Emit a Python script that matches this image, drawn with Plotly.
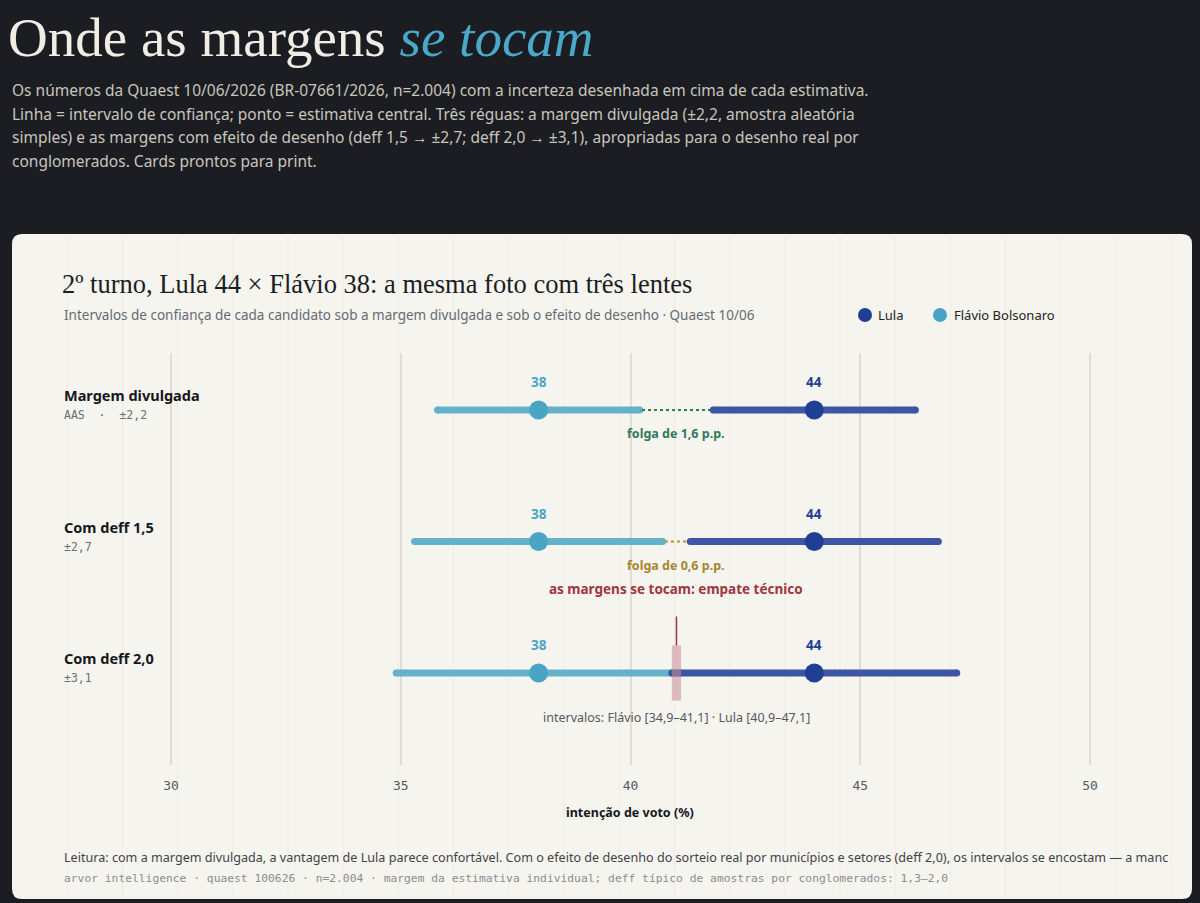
import plotly.graph_objects as go

# ---------------- data ----------------
row_labels = ["Margem divulgada", "Com deff 1,5", "Com deff 2,0"]
row_sublabels = ["AAS  ·  ±2,2", "±2,7", "±3,1"]
margins = [2.2, 2.7, 3.1]
candidates = ["Lula", "Flávio Bolsonaro"]
estimates = {"Lula": 44, "Flávio Bolsonaro": 38}
tick_vals = [30, 35, 40, 45, 50]
tick_text = ["30", "35", "40", "45", "50"]
gap_labels = ["folga de 1,6 p.p.", "folga de 0,6 p.p.", None]
overlap_label = "as margens se tocam: empate técnico"
interval_note = "intervalos: Flávio [34,9–41,1] · Lula [40,9–47,1]"

# ---------------- styling ----------------
OFF = 0
W, H = 1200, 903
BG = "#1b1d22"
CARD = "#f5f4ef"
DOT = {"Lula": "#1f3f94", "Flávio Bolsonaro": "#4aa5c4"}
LINE = {"Lula": "#3c56a4", "Flávio Bolsonaro": "#66b1ca"}
GAP_COL = ["#2f7a5a", "#c28f35", None]
GAP_TXT = ["#2f7a5a", "#a9842f", None]
RED = "#a0343f"
SANS = "Noto Sans"
SERIF = "Liberation Serif"
MONO = "DejaVu Sans Mono"


def px(x):
    return (x - OFF) / W


def py(y):
    return 1 - (y - OFF) / H


# axis geometry (pixel mapping, in screenshot pixels)
PX30, PX50 = 171, 1090
ppu = (PX50 - PX30) / 20
DOM_L, DOM_R = 62, 1150
xr = [30 - (PX30 - DOM_L) / ppu, 50 + (DOM_R - PX50) / ppu]
ROW0, ROWSTEP = 410, 131.5
DOM_T, DOM_B = 353, 765
yr = [(DOM_B - ROW0) / ROWSTEP, (DOM_T - ROW0) / ROWSTEP]

fig = go.Figure()

# interval lines (Flávio first, Lula on top)
for cand in ["Flávio Bolsonaro", "Lula"]:
    for i, m in enumerate(margins):
        c = estimates[cand]
        fig.add_trace(go.Scatter(
            x=[c - m, c + m], y=[i, i], mode="lines+markers",
            line=dict(color=LINE[cand], width=7),
            marker=dict(color=LINE[cand], size=7),
            hoverinfo="skip", showlegend=False))

# gap dotted lines
for i, m in enumerate(margins):
    lo = estimates["Flávio Bolsonaro"] + m
    hi = estimates["Lula"] - m
    if hi > lo and GAP_COL[i]:
        fig.add_trace(go.Scatter(
            x=[lo + 0.05, hi - 0.05], y=[i, i], mode="lines",
            line=dict(color=GAP_COL[i], width=2, dash="dot"),
            hoverinfo="skip", showlegend=False))

# central estimate dots
for cand in ["Flávio Bolsonaro", "Lula"]:
    fig.add_trace(go.Scatter(
        x=[estimates[cand]] * len(margins), y=list(range(len(margins))),
        mode="markers", name=cand,
        marker=dict(color=DOT[cand], size=19),
        showlegend=False))

shapes = []
# card
cx0, cx1, cy0, cy1, r = 12, 1192, 234, 899, 10
rx, ry = r / W, r / H
X0, X1, Y0, Y1 = px(cx0), px(cx1), py(cy1), py(cy0)
path = (f"M {X0+rx},{Y1} L {X1-rx},{Y1} Q {X1},{Y1} {X1},{Y1-ry} "
        f"L {X1},{Y0+ry} Q {X1},{Y0} {X1-rx},{Y0} L {X0+rx},{Y0} "
        f"Q {X0},{Y0} {X0},{Y0+ry} L {X0},{Y1-ry} Q {X0},{Y1} {X0+rx},{Y1} Z")
shapes.append(dict(type="path", path=path, xref="paper", yref="paper",
                   fillcolor=CARD, line=dict(width=0), layer="below"))
# faint background pattern
k = 1
while cx0 + 55.2 * k < cx1 - 4:
    xx = px(cx0 + 55.2 * k)
    shapes.append(dict(type="line", xref="paper", yref="paper", x0=xx, x1=xx,
                       y0=py(cy1 - 2), y1=py(cy0 + 2),
                       line=dict(color="rgba(0,0,0,0.035)", width=1), layer="below"))
    k += 1

# overlap marker for last row
i3 = 2
ov_lo = estimates["Lula"] - margins[i3]
ov_hi = estimates["Flávio Bolsonaro"] + margins[i3]
ov_mid = (ov_lo + ov_hi) / 2
shapes.append(dict(type="rect", xref="x", yref="y", x0=ov_lo, x1=ov_hi,
                   y0=i3 - 0.21, y1=i3 + 0.21,
                   fillcolor="rgba(200,140,148,0.55)", line=dict(width=0), layer="above"))
shapes.append(dict(type="line", xref="x", yref="y", x0=ov_mid, x1=ov_mid,
                   y0=i3 - 0.21, y1=i3 - 0.43,
                   line=dict(color=RED, width=1.5), layer="above"))

# legend markers
leg = [("Lula", 865, 876), ("Flávio Bolsonaro", 940, 952)]
for cand, dx, tx in leg:
    shapes.append(dict(type="circle", xref="paper", yref="paper",
                       xsizemode="pixel", ysizemode="pixel",
                       xanchor=px(dx), yanchor=py(315),
                       x0=-7, x1=7, y0=-7, y1=7,
                       fillcolor=DOT[cand], line=dict(width=0)))

ann = []


def text(x, y, t, size, color, family=SANS, xanchor="left", yanchor="middle"):
    ann.append(dict(x=px(x), y=py(y), xref="paper", yref="paper", text=t,
                    showarrow=False, xanchor=xanchor, yanchor=yanchor,
                    font=dict(size=size, color=color, family=family)))


# header
text(6, 37, "Onde as margens <i><span style='color:#4aa8c8'>se tocam</span></i>",
     55, "#f1ede4", family=SERIF)
intro = [
    "Os números da Quaest 10/06/2026 (BR-07661/2026, n=2.004) com a incerteza desenhada em cima de cada estimativa.",
    "Linha = intervalo de confiança; ponto = estimativa central. Três réguas: a margem divulgada (±2,2, amostra aleatória",
    "simples) e as margens com efeito de desenho (deff 1,5 → ±2,7; deff 2,0 → ±3,1), apropriadas para o desenho real por",
    "conglomerados. Cards prontos para print.",
]
for j, line in enumerate(intro):
    text(10, 90 + 23.7 * j, line, 15.5, "#c9c5bc")

# card title
text(60, 284, "2º turno, Lula 44 × Flávio 38: a mesma foto com três lentes", 26.5, "#1b1d22", family=SERIF)
text(62, 315, "Intervalos de confiança de cada candidato sob a margem divulgada e sob o efeito de desenho · Quaest 10/06",
     13.5, "#666a70")
for cand, dx, tx in leg:
    text(tx, 315, cand, 13, "#222")

# row labels
for i, (lab, sub) in enumerate(zip(row_labels, row_sublabels)):
    ann.append(dict(x=px(62), y=i, xref="paper", yref="y", text=f"<b>{lab}</b>",
                    showarrow=False, xanchor="left", yanchor="middle", yshift=15,
                    font=dict(size=14.5, color="#15171b", family=SANS)))
    ann.append(dict(x=px(62), y=i, xref="paper", yref="y", text=sub,
                    showarrow=False, xanchor="left", yanchor="middle", yshift=-5,
                    font=dict(size=11.5, color="#6b6e73", family=MONO)))
    for cand in candidates:
        ann.append(dict(x=estimates[cand], y=i, xref="x", yref="y",
                        text=f"<b>{estimates[cand]}</b>", showarrow=False,
                        yshift=28, font=dict(size=13.5, color=DOT[cand], family=SANS)))
    if gap_labels[i]:
        lo = estimates["Flávio Bolsonaro"] + margins[i]
        hi = estimates["Lula"] - margins[i]
        ann.append(dict(x=(lo + hi) / 2, y=i, xref="x", yref="y",
                        text=f"<b>{gap_labels[i]}</b>", showarrow=False,
                        yshift=-24, font=dict(size=12.5, color=GAP_TXT[i], family=SANS)))

ann.append(dict(x=ov_mid, y=i3, xref="x", yref="y", text=f"<b>{overlap_label}</b>",
                showarrow=False, yshift=84, font=dict(size=13.5, color=RED, family=SANS)))
ann.append(dict(x=ov_mid, y=i3, xref="x", yref="y", text=interval_note,
                showarrow=False, yshift=-44, font=dict(size=12.5, color="#55585d", family=SANS)))

# axis title
text(630, 812, "<b>intenção de voto (%)</b>", 12.5, "#15171b", xanchor="center")

# footer
text(62, 857, "Leitura: com a margem divulgada, a vantagem de Lula parece confortável. Com o efeito de desenho do sorteio real por municípios e setores (deff 2,0), os intervalos se encostam — a manc",
     12.6, "#3f4247")
text(62, 878, "arvor intelligence · quaest 100626 · n=2.004 · margem da estimativa individual; deff típico de amostras por conglomerados: 1,3–2,0",
     11.3, "#8a8d91", family=MONO)

fig.update_layout(
    width=W, height=H, margin=dict(l=0, r=0, t=0, b=0),
    paper_bgcolor=BG, plot_bgcolor="rgba(0,0,0,0)",
    showlegend=False, shapes=shapes, annotations=ann,
    xaxis=dict(domain=[px(DOM_L), px(DOM_R)], range=xr, tickvals=tick_vals,
               ticktext=tick_text, showgrid=True, gridcolor="#e1ddd2", gridwidth=1.5,
               zeroline=False, showline=False, ticks="", ticklabelstandoff=11,
               tickfont=dict(family=MONO, size=13, color="#55585d"), fixedrange=True),
    yaxis=dict(domain=[py(DOM_B), py(DOM_T)], range=yr, showgrid=False, zeroline=False,
               showticklabels=False, showline=False, fixedrange=True),
)

fig.write_html(
    "out.html",
    config={"displayModeBar": False},
    post_script="document.body.style.margin='0';document.body.style.background='#1b1d22';"
                "document.documentElement.style.background='#1b1d22';",
)
